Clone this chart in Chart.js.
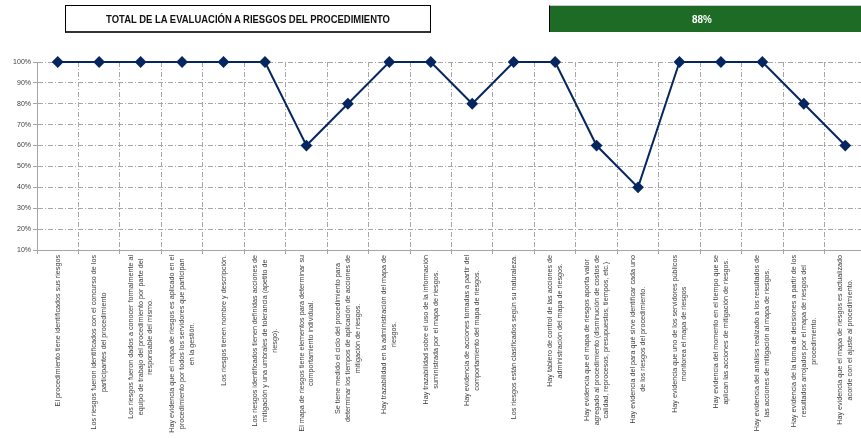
<!DOCTYPE html>
<html>
<head>
<meta charset="utf-8">
<script src="https://cdn.jsdelivr.net/npm/chart.js@4/dist/chart.umd.min.js"></script>
<style>
    html, body { margin: 0; padding: 0; background: #fff; overflow: hidden; }
    #wrap { position: relative; width: 861px; height: 439px; overflow: hidden; }
    #chart { position: absolute; left: 0; top: 0; }
    .title-box {
        position: absolute; left: 65px; top: 5px; width: 364px; height: 25px;
        border: 1px solid #000; border-bottom: 2px solid #333;
        display: flex; align-items: center; justify-content: center; color: #111;
    }
    .title-box span {
        font: bold 11px "Liberation Sans", Arial, sans-serif;
        transform: scaleX(0.86); white-space: nowrap; display: inline-block;
    }
    .score-box {
        position: absolute; left: 549px; top: 5px; width: 320px; height: 26px;
        background: #1e6b26; border-left: 1px solid #000; border-top: 1px solid #ccc;
        font: bold 11px "Liberation Sans", Arial, sans-serif;
        color: #fff; display: flex; align-items: center;
    }
    .score-box span { position: absolute; left: 141px; transform: scaleX(0.9); }
</style>
</head>
<body>
<div id="wrap">
    <canvas id="chart" width="866" height="439"></canvas>
    <div class="title-box"><span>TOTAL DE LA EVALUACIÓN A RIESGOS DEL PROCEDIMIENTO</span></div>
    <div class="score-box"><span>88%</span></div>
</div>
<script>
// Criterios evaluados (cada uno en sus renglones tal como aparecen)
const criterios = [
    ['El procedimiento tiene identificados sus riesgos'],
    ['Los riesgos fueron identificados con el concurso de los', 'participantes del procedimiento'],
    ['Los riesgos fueron dados a conocer formalmente al', 'equipo de trabajo del procedimiento por parte del', 'responsable del mismo.'],
    ['Hay evidencia que el mapa de riesgos es aplicado en el', 'procedimiento por todos los servidores que participan', 'en la gestión.'],
    ['Los riesgos tienen nombre y descripción.'],
    ['Los riesgos identificados tienen definidas acciones de', 'mitigación y una umbrales de tolerancia (apetito de', 'riesgo).'],
    ['El mapa de riesgos tiene elementos para determinar su', 'comportamiento individual.'],
    ['Se tiene medido el ciclo del procedimiento para', 'determinar los tiempos de aplicación de acciones de', 'mitigación de riesgos.'],
    ['Hay trazabilidad en la administración del mapa de', 'riesgos.'],
    ['Hay trazabilidad sobre el uso de la información', 'suministrada por el mapa de riesgos.'],
    ['Hay evidencia de acciones tomadas a partir del', 'comportamiento del mapa de riesgos.'],
    ['Los riesgos están clasificados según su naturaleza.'],
    ['Hay tablero de control de las acciones de', 'administración del mapa de riesgos.'],
    ['Hay evidencia que el mapa de riesgos aporta valor', 'agregado al procedimiento (disminución de costos de', 'calidad, reprocesos, presupuestos, tiempos, etc.)'],
    ['Hay evidencia del para qué sirve identificar cada uno', 'de los riesgos del procedimiento.'],
    ['Hay evidencia que uno de los servidores públicos', 'monitorea el mapa de riesgos'],
    ['Hay evidencia del momento en el tiempo que se', 'aplican las acciones de mitigación de riesgos.'],
    ['Hay evidencia del análisis realizado a los resultados de', 'las acciones de mitigación al mapa de riesgos.'],
    ['Hay evidencia de la toma de decisiones a partir de los', 'resultados arrojados por el mapa de riesgos del', 'procedimiento.'],
    ['Hay evidencia que el mapa de riesgos es actualizado', 'acorde con el ajuste al procedimiento.']
];

// Calificación de cada criterio (%)
const calificacion = [100, 100, 100, 100, 100, 100, 60, 80, 100, 100, 80, 100, 100, 60, 40, 100, 100, 100, 80, 60];

// Rango del eje Y (%)
const yMin = 10;
const yMax = 100;
const yStep = 10;

const lineColor = '#062660';
const gridColor = '#a6a6a6';
const dashDot = [5, 2, 1, 2];

// Etiquetas del eje X giradas 90°, renglones centrados y anclados al eje
const rotatedLabels = {
    id: 'rotatedLabels',
    afterDraw(chart) {
        const ctx = chart.ctx;
        const xs = chart.scales.x;
        const top = chart.chartArea.bottom + 5;
        const lineGap = 9.8;
        ctx.save();
        ctx.font = '7.2px "Liberation Sans", Arial, sans-serif';
        ctx.fillStyle = '#3a3a3a';
        ctx.textAlign = 'center';
        ctx.textBaseline = 'middle';
        criterios.forEach((lines, i) => {
            const x = xs.getPixelForValue(i);
            const maxW = Math.max(...lines.map(l => ctx.measureText(l).width));
            const mid = top + maxW / 2;
            lines.forEach((line, j) => {
                const off = (j - (lines.length - 1) / 2) * lineGap;
                ctx.save();
                ctx.translate(x + off, mid);
                ctx.rotate(-Math.PI / 2);
                ctx.fillText(line, 0, 0);
                ctx.restore();
            });
        });
        ctx.restore();
    }
};

new Chart(document.getElementById('chart'), {
    type: 'line',
    data: {
        labels: criterios.map((c, i) => String(i + 1)),
        datasets: [{
            data: calificacion,
            borderColor: lineColor,
            backgroundColor: lineColor,
            borderWidth: 2,
            pointStyle: 'rectRot',
            pointRadius: 4.5,
            pointBackgroundColor: lineColor,
            pointBorderColor: lineColor,
            tension: 0,
            clip: false
        }]
    },
    options: {
        responsive: false,
        animation: false,
        // sin relleno automático: el área sigue hasta el borde derecho
        layout: { autoPadding: false, padding: { top: 62, right: 0, bottom: 0, left: 0 } },
        plugins: {
            legend: { display: false },
            tooltip: { enabled: false }
        },
        scales: {
            x: {
                offset: true,
                ticks: { display: false },
                grid: {
                    offset: true,
                    color: gridColor,
                    tickLength: 4
                },
                border: { color: gridColor, dash: dashDot, width: 1 },
                afterFit(scale) { scale.height = 189; }
            },
            y: {
                min: yMin,
                max: yMax,
                ticks: {
                    stepSize: yStep,
                    padding: 2,
                    color: '#404040',
                    font: { size: 7, family: '"Liberation Sans", Arial, sans-serif' },
                    callback: v => v + '%'
                },
                grid: {
                    color: gridColor,
                    tickLength: 4
                },
                border: { color: gridColor, dash: dashDot, width: 1 },
                afterFit(scale) { scale.width = 37; }
            }
        }
    },
    plugins: [rotatedLabels]
});
</script>
</body>
</html>
